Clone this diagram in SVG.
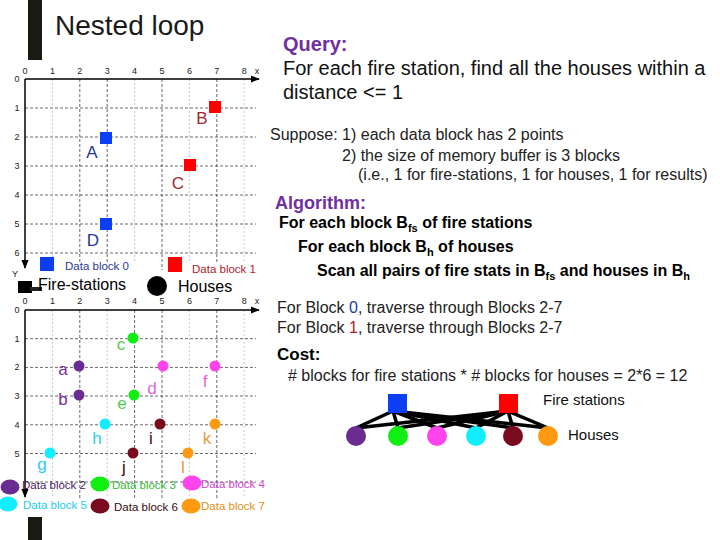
<svg xmlns="http://www.w3.org/2000/svg" width="720" height="540" viewBox="0 0 720 540">
<defs>
<marker id="arr" viewBox="0 0 10 10" refX="9" refY="5" markerWidth="6" markerHeight="6" orient="auto">
<path d="M0,1 L10,5 L0,9 z" fill="#000"/>
</marker>
<style>
text{font-family:"Liberation Sans",Arial,sans-serif}
.gd{stroke:#444;stroke-width:0.8;stroke-dasharray:3,2;fill:none}
.gl{stroke:#bbb;stroke-width:0.8;stroke-dasharray:2,2;fill:none}
.ax{stroke:#000;stroke-width:1.5;fill:none}
.tk{font-size:9px;fill:#222}
.lbl{font-size:17px}
.dk{font-size:11.5px}
.body{font-size:16px;fill:#222}
.bold{font-weight:bold}
.conn line{stroke:#000;stroke-width:3.5}
</style>
</defs>
<rect width="720" height="540" fill="#fff"/>
<rect x="28" y="0" width="14" height="60" fill="#1a1a12"/>
<rect x="28" y="517" width="14" height="23" fill="#1a1a12"/>
<text x="55" y="35" font-size="28" fill="#1a1a1a">Nested loop</text>

<!-- Top grid -->
<g id="grid-top">
<path class="gd" d="M25,108H256M25,137H256M25,166H256M25,195H256M25,224H256M25,253H256"/>
<path class="gl" d="M52.4,79V262M134.6,79V262M189.4,79V262M244.2,79V262"/>
<path class="gd" d="M79.8,79V262M107.2,79V262M162,79V270M216.8,79V262"/>
<line class="ax" x1="25" y1="79" x2="259" y2="79" marker-end="url(#arr)"/>
<line class="ax" x1="25" y1="79" x2="25" y2="268" marker-end="url(#arr)"/>
<g class="tk" text-anchor="middle">
<text x="25" y="74">0</text><text x="52.4" y="74">1</text><text x="79.8" y="74">2</text><text x="107.2" y="74">3</text><text x="134.6" y="74">4</text><text x="162" y="74">5</text><text x="189.4" y="74">6</text><text x="216.8" y="74">7</text><text x="244.2" y="74">8</text><text x="257" y="74">x</text>
<text x="17" y="82">0</text><text x="17" y="111">1</text><text x="17" y="140">2</text><text x="17" y="169">3</text><text x="17" y="198">4</text><text x="17" y="227">5</text><text x="17" y="256">6</text><text x="15" y="277">Y</text>
</g>
</g>
<g id="fs-A"><rect x="100" y="132" width="12" height="12" fill="#0b3ef5"/><text class="lbl" x="92" y="158" text-anchor="middle" fill="#1f3a93">A</text></g>
<g id="fs-B"><rect x="209" y="101" width="12" height="12" fill="#ff0000"/><text class="lbl" x="202" y="124" text-anchor="middle" fill="#a0282d">B</text></g>
<g id="fs-C"><rect x="184" y="159" width="12" height="12" fill="#ff0000"/><text class="lbl" x="178" y="189" text-anchor="middle" fill="#a0282d">C</text></g>
<g id="fs-D"><rect x="100" y="218" width="12" height="12" fill="#0b3ef5"/><text class="lbl" x="93" y="246" text-anchor="middle" fill="#1f3a93">D</text></g>
<g id="legend-top">
<rect x="40" y="257" width="14" height="14" fill="#0b3ef5"/>
<text class="dk" x="65" y="270" fill="#1f3a93">Data block 0</text>
<rect x="168" y="257" width="14" height="15" fill="#ff0000"/>
<text class="dk" x="192" y="273" fill="#b0202a">Data block 1</text>
<rect x="18" y="281" width="14" height="12" fill="#000"/>
<rect x="30" y="287" width="12" height="4" fill="#222"/>
<text x="38" y="290" font-size="16" fill="#000">Fire-stations</text>
<circle cx="157" cy="286" r="10" fill="#000"/>
<text x="178" y="292" font-size="16" fill="#000">Houses</text>
</g>

<!-- Bottom grid -->
<g id="grid-bottom">
<path class="gd" d="M25,338.7H256M25,367.4H256M25,396H256M25,424.8H256M25,453.5H256M25,482H256"/>
<path class="gl" d="M52.4,310V498M107.2,310V498M189.4,310V498M244.2,310V498"/>
<path class="gd" d="M79.8,310V498M134.6,310V498M162,310V498M216.8,310V498"/>
<line class="ax" x1="25" y1="310" x2="259" y2="310" marker-end="url(#arr)"/>
<line class="ax" x1="25" y1="310" x2="25" y2="497" marker-end="url(#arr)"/>
<g class="tk" text-anchor="middle">
<text x="25" y="304">0</text><text x="52.4" y="304">1</text><text x="79.8" y="304">2</text><text x="107.2" y="304">3</text><text x="134.6" y="304">4</text><text x="162" y="304">5</text><text x="189.4" y="304">6</text><text x="216.8" y="304">7</text><text x="244.2" y="304">8</text><text x="257" y="304">x</text>
<text x="17" y="313">0</text><text x="17" y="342">1</text><text x="17" y="370">2</text><text x="17" y="399">3</text><text x="17" y="428">4</text><text x="17" y="457">5</text>
</g>
</g>
<g id="h-a"><circle cx="79" cy="366" r="5.5" fill="#6a2c91"/><text class="lbl" x="63" y="375" text-anchor="middle" fill="#7030a0">a</text></g>
<g id="h-b"><circle cx="79" cy="395" r="5.5" fill="#6a2c91"/><text class="lbl" x="63" y="405" text-anchor="middle" fill="#7030a0">b</text></g>
<g id="h-c"><circle cx="133" cy="338" r="5.5" fill="#11ee11"/><text class="lbl" x="121" y="350" text-anchor="middle" fill="#55cc55">c</text></g>
<g id="h-d"><circle cx="163" cy="366" r="5.5" fill="#ff44ee"/><text class="lbl" x="152" y="394" text-anchor="middle" fill="#dd66dd">d</text></g>
<g id="h-e"><circle cx="134" cy="395" r="5.5" fill="#11ee11"/><text class="lbl" x="122" y="409" text-anchor="middle" fill="#55cc55">e</text></g>
<g id="h-f"><circle cx="215" cy="366" r="5.5" fill="#ff44ee"/><text class="lbl" x="205" y="387" text-anchor="middle" fill="#dd66dd">f</text></g>
<g id="h-h"><circle cx="105" cy="424" r="5.5" fill="#11eeff"/><text class="lbl" x="97" y="444" text-anchor="middle" fill="#33ccee">h</text></g>
<g id="h-i"><circle cx="160" cy="424" r="5.5" fill="#7a0a1e"/><text class="lbl" x="151" y="444" text-anchor="middle" fill="#4a0a14">i</text></g>
<g id="h-k"><circle cx="215" cy="424" r="5.5" fill="#ff9911"/><text class="lbl" x="207" y="444" text-anchor="middle" fill="#e0a040">k</text></g>
<g id="h-g"><circle cx="50" cy="453" r="5.5" fill="#11eeff"/><text class="lbl" x="42" y="470" text-anchor="middle" fill="#33ccee">g</text></g>
<g id="h-j"><circle cx="133" cy="453" r="5.5" fill="#7a0a1e"/><text class="lbl" x="124" y="473" text-anchor="middle" fill="#4a0a14">j</text></g>
<g id="h-l"><circle cx="188" cy="453" r="5.5" fill="#ff9911"/><text class="lbl" x="183" y="473" text-anchor="middle" fill="#e0a040">l</text></g>
<g id="legend-bottom">
<ellipse cx="10" cy="487" rx="9.5" ry="7.5" fill="#6a2c91"/>
<text class="dk" x="22" y="489" fill="#4a2060">Data block 2</text>
<ellipse cx="100" cy="484" rx="9.5" ry="7.5" fill="#11ee11"/>
<text class="dk" x="112" y="489" fill="#33bb33">Data block 3</text>
<ellipse cx="192" cy="483" rx="9.5" ry="7.5" fill="#ff44ee"/>
<text class="dk" x="201" y="488" fill="#cc44cc">Data block 4</text>
<ellipse cx="8" cy="504" rx="9.5" ry="7.5" fill="#11eeff"/>
<text class="dk" x="23" y="509" fill="#22ccee">Data block 5</text>
<ellipse cx="100" cy="506" rx="9.5" ry="7.5" fill="#7a0a1e"/>
<text class="dk" x="114" y="511" fill="#3a0a10">Data block 6</text>
<ellipse cx="191" cy="506" rx="9.5" ry="7.5" fill="#ff9911"/>
<text class="dk" x="201" y="510" fill="#e09020">Data block 7</text>
</g>

<!-- Right side text -->
<g id="query">
<text x="283" y="51" font-size="20" font-weight="bold" fill="#7030a0">Query:</text>
<text x="283" y="75" font-size="20" fill="#111">For each fire station, find all the houses within a</text>
<text x="283" y="99" font-size="20" fill="#111">distance &lt;= 1</text>
</g>
<g id="suppose" class="body">
<text class="body" x="270" y="140">Suppose: 1) each data block has 2 points</text>
<text class="body" x="342" y="161">2) the size of memory buffer is 3 blocks</text>
<text class="body" x="358" y="180">(i.e., 1 for fire-stations, 1 for houses, 1 for results)</text>
</g>
<g id="algorithm">
<text x="275" y="209" font-size="18" font-weight="bold" fill="#7030a0">Algorithm:</text>
<text x="279" y="228" font-size="16" font-weight="bold" fill="#000">For each block B<tspan font-size="11" dy="4">fs</tspan><tspan dy="-4"> of fire stations</tspan></text>
<text x="298" y="252" font-size="16" font-weight="bold" fill="#000">For each block B<tspan font-size="11" dy="4">h</tspan><tspan dy="-4"> of houses</tspan></text>
<text x="317" y="276" font-size="16" font-weight="bold" fill="#000">Scan all pairs of fire stats in B<tspan font-size="11" dy="4">fs</tspan><tspan dy="-4"> and houses in B</tspan><tspan font-size="11" dy="4">h</tspan></text>
</g>
<g id="traverse">
<text class="body" x="277" y="313">For Block <tspan fill="#1f3a93">0</tspan>, traverse through Blocks 2-7</text>
<text class="body" x="277" y="333">For Block <tspan fill="#b0202a">1</tspan>, traverse through Blocks 2-7</text>
<text x="277" y="360" font-size="17" font-weight="bold" fill="#000">Cost:</text>
<text class="body" x="288" y="381"># blocks for fire stations * # blocks for houses = 2*6 = 12</text>
</g>

<!-- Cost graph -->
<g id="connectors" class="conn">
<line x1="393" y1="411" x2="356" y2="428"/>
<line x1="393" y1="411" x2="398" y2="428"/>
<line x1="393" y1="411" x2="437" y2="428"/>
<line x1="393" y1="411" x2="476" y2="428"/>
<line x1="393" y1="411" x2="513" y2="428"/>
<line x1="393" y1="411" x2="548" y2="428"/>
<line x1="508" y1="411" x2="356" y2="428"/>
<line x1="508" y1="411" x2="398" y2="428"/>
<line x1="508" y1="411" x2="437" y2="428"/>
<line x1="508" y1="411" x2="476" y2="428"/>
<line x1="508" y1="411" x2="513" y2="428"/>
<line x1="508" y1="411" x2="548" y2="428"/>
</g>
<g id="g-fs0"><rect x="388" y="394" width="19" height="19" fill="#0b3ef5"/></g>
<g id="g-fs1"><rect x="499" y="394" width="19" height="19" fill="#ff0000"/></g>
<text x="543" y="405" font-size="15" fill="#111">Fire stations</text>
<g id="g-h2"><circle cx="356" cy="436" r="10" fill="#6a2c91"/></g>
<g id="g-h3"><circle cx="398" cy="436" r="10" fill="#11ee11"/></g>
<g id="g-h4"><circle cx="437" cy="436" r="10" fill="#ff44ee"/></g>
<g id="g-h5"><circle cx="476" cy="436" r="10" fill="#11eeff"/></g>
<g id="g-h6"><circle cx="513" cy="436" r="10" fill="#7a0a1e"/></g>
<g id="g-h7"><circle cx="548" cy="436" r="10" fill="#ff9911"/></g>
<text x="568" y="440" font-size="15" fill="#111">Houses</text>
</svg>
